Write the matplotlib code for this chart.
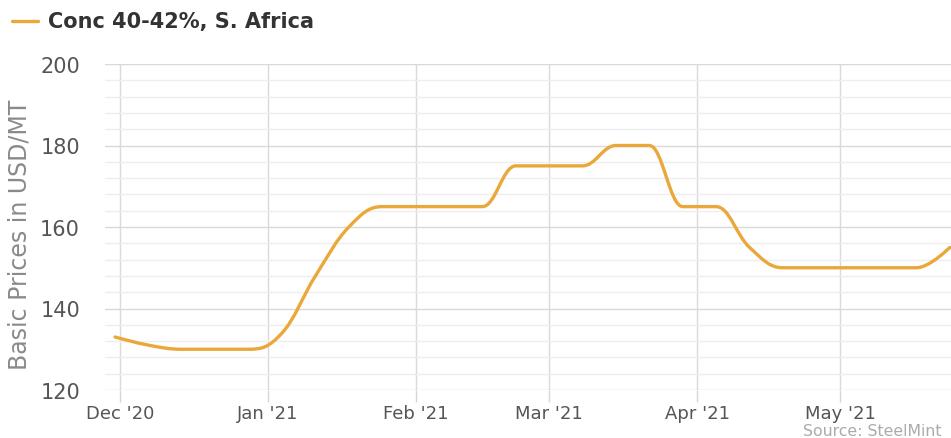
import numpy as np
import pandas as pd
import matplotlib
matplotlib.use('Agg')
import matplotlib.pyplot as plt
import matplotlib.dates as mdates
from matplotlib.path import Path
from matplotlib.patches import PathPatch
from matplotlib.ticker import MultipleLocator

# weekly prices, Conc 40-42%, S. Africa (USD/MT)
dates = ['2020-11-30', '2020-12-07', '2020-12-14', '2020-12-21', '2020-12-28',
         '2021-01-04', '2021-01-11', '2021-01-18', '2021-01-25', '2021-02-01',
         '2021-02-08', '2021-02-15', '2021-02-22', '2021-03-01', '2021-03-08',
         '2021-03-15', '2021-03-22', '2021-03-29', '2021-04-05', '2021-04-12',
         '2021-04-19', '2021-04-26', '2021-05-03', '2021-05-10', '2021-05-17',
         '2021-05-24']
prices = [133, 131, 130, 130, 130,
          134, 148, 160, 165, 165,
          165, 165, 175, 175, 175,
          180, 180, 165, 165, 155,
          150, 150, 150, 150, 150,
          155]
month_ticks = ['2020-12-01', '2021-01-01', '2021-02-01', '2021-03-01', '2021-04-01', '2021-05-01']
month_labels = ["Dec '20", "Jan '21", "Feb '21", "Mar '21", "Apr '21", "May '21"]

LINE = '#EAA83A'


def spline_path(xs, ys, smoothing=1.5):
    # bezier spline like the web chart draws it
    n = len(xs)
    left = [(xs[i], ys[i]) for i in range(n)]
    right = [(xs[i], ys[i]) for i in range(n)]
    d = smoothing + 1
    for i in range(1, n - 1):
        px, py = xs[i], ys[i]
        lx, ly = xs[i - 1], ys[i - 1]
        nx, ny = xs[i + 1], ys[i + 1]
        lcx = (smoothing * px + lx) / d
        lcy = (smoothing * py + ly) / d
        rcx = (smoothing * px + nx) / d
        rcy = (smoothing * py + ny) / d
        if rcx != lcx:
            corr = (rcy - lcy) * (rcx - px) / (rcx - lcx) + py - rcy
            lcy += corr
            rcy += corr
        if lcy > ly and lcy > py:
            lcy = max(ly, py); rcy = 2 * py - lcy
        elif lcy < ly and lcy < py:
            lcy = min(ly, py); rcy = 2 * py - lcy
        if rcy > ny and rcy > py:
            rcy = max(ny, py); lcy = 2 * py - rcy
        elif rcy < ny and rcy < py:
            rcy = min(ny, py); lcy = 2 * py - rcy
        left[i] = (lcx, lcy)
        right[i] = (rcx, rcy)
    verts = [(xs[0], ys[0])]
    codes = [Path.MOVETO]
    for i in range(1, n):
        verts += [right[i - 1], left[i], (xs[i], ys[i])]
        codes += [Path.CURVE4] * 3
    return Path(verts, codes)


x = mdates.date2num(pd.to_datetime(dates))
y = np.array(prices, dtype=float)

fig = plt.figure(figsize=(9.51, 4.39), dpi=100)
ax = fig.add_axes([105 / 951, 1 - 391 / 439, 1 - 105 / 951, (391 - 65) / 439])

ax.add_patch(PathPatch(spline_path(list(x), list(y)), facecolor='none', edgecolor=LINE,
                       lw=2.4, capstyle='round', joinstyle='round', zorder=3))

x0 = mdates.date2num(pd.Timestamp('2020-11-27 21:00'))
x1 = mdates.date2num(pd.Timestamp('2021-05-24 06:00'))
ax.set_xlim(x0, x1)
ax.set_ylim(120, 200)

ax.set_xticks(mdates.date2num(pd.to_datetime(month_ticks)))
ax.set_xticklabels(month_labels)
ax.yaxis.set_major_locator(MultipleLocator(20))
ax.yaxis.set_minor_locator(MultipleLocator(4))

for s in ax.spines.values():
    s.set_visible(False)
ax.grid(axis='y', which='major', color='#d9d9d9', lw=1.0, zorder=0)
ax.grid(axis='y', which='minor', color='#eeeeee', lw=1.0, zorder=0)
ax.grid(axis='x', which='major', color='#dadada', lw=1.0, zorder=0)
ax.tick_params(axis='x', length=8.6, width=1.0, color='#d6d6d6', pad=1.5,
               labelsize=13, labelcolor='#555555')
ax.tick_params(axis='y', which='both', length=0, pad=18, labelsize=15, labelcolor='#555555')

ax.set_ylabel('Basic Prices in USD/MT', fontsize=17, color='#8a8a8a')
ax.yaxis.set_label_coords(-73 / 846, (391 - 235) / 326)

# legend row at the top
fig.add_artist(plt.Line2D([12 / 951, 38 / 951], [1 - 22 / 439, 1 - 22 / 439],
                          color=LINE, lw=2.4, solid_capstyle='round'))
fig.text(48 / 951, 1 - 22 / 439, 'Conc 40-42%, S. Africa', fontsize=15, fontweight='bold',
         color='#333333', va='center', ha='left')

fig.text(803 / 951, 1 - 432 / 439, 'Source: SteelMint', fontsize=11.3, color='#ababab',
         va='center', ha='left')

fig.savefig('out.png', dpi=100)
